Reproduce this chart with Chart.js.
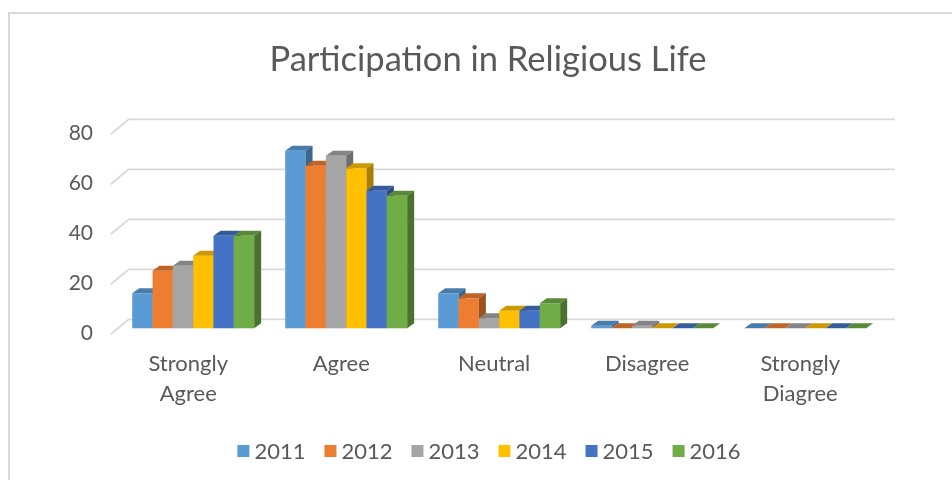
<!DOCTYPE html>
<html>
<head>
<meta charset="utf-8">
<script src="https://cdn.jsdelivr.net/npm/chart.js@4.4.1/dist/chart.umd.min.js"></script>
<style>
  html, body { margin: 0; padding: 0; background: #ffffff; }
  #wrap { width: 952px; height: 480px; position: relative; }
</style>
</head>
<body>
<div id="wrap"><canvas id="c" width="952" height="480"></canvas></div>
<script>
// ---- data ----
const categories = [['Strongly', 'Agree'], 'Agree', 'Neutral', 'Disagree', ['Strongly', 'Diagree']];
const seriesNames = ['2011', '2012', '2013', '2014', '2015', '2016'];
const seriesColors = ['#5B9BD5', '#ED7D31', '#A5A5A5', '#FFC000', '#4472C4', '#70AD47'];
const values2011 = [14, 71, 14, 1, 0];
const values2012 = [23, 65, 12, 0, 0];
const values2013 = [25, 69, 4, 1, 0];
const values2014 = [29, 64, 7, 0, 0];
const values2015 = [37, 55, 7, 0, 0];
const values2016 = [37, 53, 10, 0, 0];
const yTicks = [0, 20, 40, 60, 80];

const seriesValues = [values2011, values2012, values2013, values2014, values2015, values2016];

// ---- look ----
const TEXT_COLOR = '#595959';
const GRID_COLOR = '#d9d9d9';
const FONT = 'Lato, "Open Sans", sans-serif';
const DEPTH = { dx: 7, dy: -5 };                       // bar extrusion
const WALL = { frontDx: -6, frontDy: 6, backDx: 12, backDy: -9, rightExtra: 13 };

function shade(hex, f) {
  const n = parseInt(hex.slice(1), 16);
  const r = Math.round(((n >> 16) & 255) * f);
  const g = Math.round(((n >> 8) & 255) * f);
  const b = Math.round((n & 255) * f);
  return `rgb(${r},${g},${b})`;
}

// Pseudo-3D column renderer: back wall grid, extruded bars, legend and frame
const columns3d = {
  id: 'columns3d',
  beforeDraw(chart) {
    const { ctx, width, height } = chart;
    ctx.save();
    ctx.fillStyle = '#ffffff';
    ctx.fillRect(0, 0, width, height);
    ctx.strokeStyle = GRID_COLOR;
    ctx.lineWidth = 2;
    ctx.beginPath();
    ctx.moveTo(9, height + 5);
    ctx.lineTo(9, 13);
    ctx.lineTo(width + 5, 13);
    ctx.stroke();
    ctx.restore();
  },
  beforeDatasetsDraw(chart) {
    const { ctx, chartArea: a } = chart;
    const y = chart.scales.y;
    ctx.save();
    // wall gridlines
    ctx.strokeStyle = GRID_COLOR;
    ctx.lineWidth = 1.8;
    yTicks.forEach(v => {
      const py = y.getPixelForValue(v);
      ctx.beginPath();
      ctx.moveTo(a.left + WALL.frontDx, py + WALL.frontDy);
      ctx.lineTo(a.left + WALL.backDx, py + WALL.backDy);
      ctx.lineTo(a.right + WALL.rightExtra, py + WALL.backDy);
      ctx.stroke();
    });
    // bars, series by series so each group is painted left to right
    chart.data.datasets.forEach((ds, i) => {
      const meta = chart.getDatasetMeta(i);
      const base = ds.backgroundColor;
      meta.data.forEach(bar => {
        const l = bar.x - bar.width / 2;
        const r = bar.x + bar.width / 2;
        const t = bar.y;
        const b = bar.base;
        ctx.fillStyle = base;
        ctx.fillRect(l, t, r - l, b - t);
        ctx.fillStyle = shade(base, 0.8);
        ctx.beginPath();
        ctx.moveTo(l, t);
        ctx.lineTo(l + DEPTH.dx, t + DEPTH.dy);
        ctx.lineTo(r + DEPTH.dx, t + DEPTH.dy);
        ctx.lineTo(r, t);
        ctx.closePath();
        ctx.fill();
        ctx.fillStyle = shade(base, 0.66);
        ctx.beginPath();
        ctx.moveTo(r, t);
        ctx.lineTo(r + DEPTH.dx, t + DEPTH.dy);
        ctx.lineTo(r + DEPTH.dx, b + DEPTH.dy);
        ctx.lineTo(r, b);
        ctx.closePath();
        ctx.fill();
      });
    });
    ctx.restore();
    return false;
  },
  afterDraw(chart) {
    const { ctx } = chart;
    const box = 12, gap = 5, spacing = 19, cy = 451, cx = 489;
    ctx.save();
    ctx.font = `22px ${FONT}`;
    ctx.textBaseline = 'middle';
    const items = chart.data.datasets.map(ds => ({
      text: ds.label, color: ds.backgroundColor, w: box + gap + ctx.measureText(ds.label).width
    }));
    const total = items.reduce((s, it) => s + it.w, 0) + spacing * (items.length - 1);
    let x = cx - total / 2;
    items.forEach(it => {
      ctx.fillStyle = it.color;
      ctx.fillRect(x, cy - box / 2, box, box);
      ctx.fillStyle = TEXT_COLOR;
      ctx.fillText(it.text, x + box + gap, cy + 1);
      x += it.w + spacing;
    });
    ctx.restore();
  }
};

new Chart(document.getElementById('c'), {
  type: 'bar',
  data: {
    labels: categories,
    datasets: seriesNames.map((name, i) => ({
      label: name,
      data: seriesValues[i],
      backgroundColor: seriesColors[i],
      borderWidth: 0,
      barPercentage: 1,
      categoryPercentage: 0.797
    }))
  },
  options: {
    responsive: false,
    animation: false,
    devicePixelRatio: 1,
    layout: { padding: { left: 64.7, right: 40.7, top: 0, bottom: 60 } },
    plugins: {
      legend: { display: false },
      tooltip: { enabled: false },
      title: {
        display: true,
        text: 'Participation in Religious Life',
        color: TEXT_COLOR,
        font: { family: FONT, size: 34.5, weight: 'normal', lineHeight: 1.2 },
        padding: { top: 39.3, bottom: 47.6 }
      }
    },
    scales: {
      x: {
        grid: { display: false, drawTicks: false },
        border: { display: false },
        ticks: {
          color: TEXT_COLOR,
          font: { family: FONT, size: 22, lineHeight: 1.36 },
          padding: 20.7,
          labelOffset: -5,
          maxRotation: 0,
          autoSkip: false
        },
        afterFit(s) { s.height = 91.7; }
      },
      y: {
        position: 'left',
        min: 0,
        max: 80,
        grid: { display: false, drawTicks: false },
        border: { display: false },
        ticks: {
          stepSize: 20,
          color: TEXT_COLOR,
          font: { family: FONT, size: 21 },
          padding: 23.7,
          labelOffset: 5
        },
        afterFit(s) { s.width = 52; }
      },
      yRight: {
        position: 'right',
        grid: { display: false, drawTicks: false },
        border: { display: false },
        ticks: { display: false },
        afterFit(s) { s.width = 29.6; }
      }
    }
  },
  plugins: [columns3d]
});
</script>
</body>
</html>
